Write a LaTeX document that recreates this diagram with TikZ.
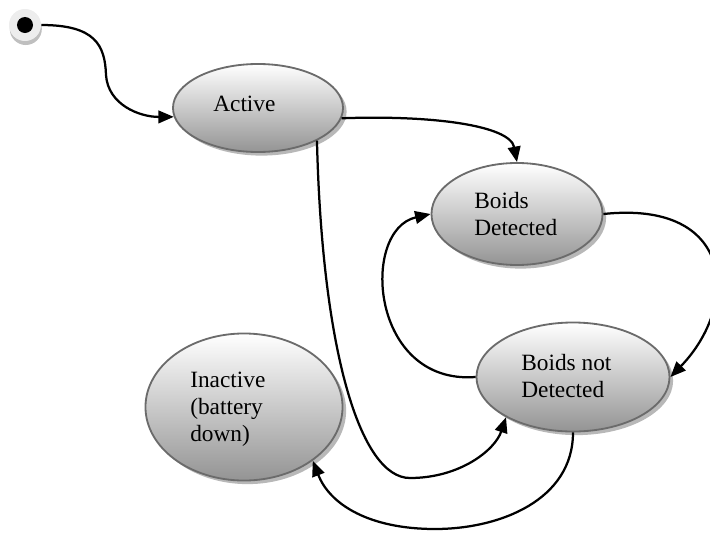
\documentclass[tikz,border=0pt]{standalone}
\usepackage{fontspec}
\setmainfont{Liberation Serif}
\usetikzlibrary{arrows.meta,shapes.geometric,shadows}

\begin{document}
\begin{tikzpicture}[x=0.025cm,y=-0.025cm,
state/.style={ellipse,draw=black!58,line width=1.3pt,inner sep=0pt,
  top color=white,bottom color=black!42,
  drop shadow={shadow xshift=0.9mm,shadow yshift=-0.9mm,fill=black!28,opacity=1}},
lbl/.style={align=left,inner sep=0pt,font=\fontsize{16.6}{19.1}\selectfont},
trans/.style={-{Triangle[length=11pt,width=9pt]},line width=1.6pt}]
\useasboundingbox (0,0) rectangle (710,533);
% initial state
\node[circle,fill=black!7,minimum size=0.8cm,inner sep=0pt,
  drop shadow={shadow xshift=0.2mm,shadow yshift=-1mm,fill=black!25,opacity=1}] (start) at (25,25) {};
\node[circle,fill=black,minimum size=0.4cm,inner sep=0pt] (startdot) at (start) {};
% states
\node[state,minimum width=4.25cm,minimum height=2.2cm] (active) at (258,108) {};
\node[state,minimum width=4.275cm,minimum height=2.55cm] (bd) at (517,214) {};
\node[state,minimum width=4.825cm,minimum height=2.725cm] (bnd) at (573,377) {};
\node[state,minimum width=4.925cm,minimum height=3.675cm] (inactive) at (244,407) {};
\node[lbl,anchor=base west] (activeT) at (213,111) {Active};
\node[lbl,anchor=west] (bdT) at (474,214) {Boids\\Detected};
\node[lbl,anchor=west] (bndT) at (521,376) {Boids not\\Detected};
\node[lbl,anchor=west] (inactiveT) at (190,409) {Inactive\\(battery\\down)};
% transitions
\draw[trans] (start.east) .. controls (95,25) and (105,45) .. (106,75)
  .. controls (108,105) and (140,117) .. (active.186);
\draw[trans] (active.-7) .. controls (430,115) and (510,125) .. (bd.north);
\draw[trans] (active.-29) .. controls (322,350) and (360,478) .. (410,478)
  .. controls (460,478) and (495,450) .. (bnd.211);
\draw[trans] (bd.east) .. controls (735,200) and (740,305) .. (bnd.east);
\draw[trans] (bnd.west) .. controls (370,385) and (360,230) .. (bd.west);
\draw[trans] (bnd.south) .. controls (573,500) and (500,529) .. (435,529)
  .. controls (370,529) and (330,505) .. (inactive.-38);
\end{tikzpicture}
\end{document}
